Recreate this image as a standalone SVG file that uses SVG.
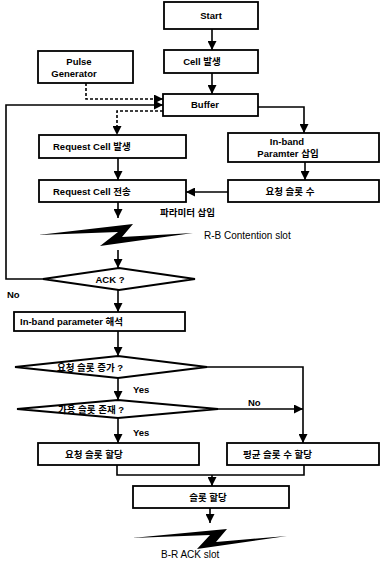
<svg xmlns="http://www.w3.org/2000/svg" width="381" height="565" viewBox="0 0 381 565">
<style>
.box{fill:#fff;stroke:#000;stroke-width:1.8}
.ln{fill:none;stroke:#000;stroke-width:1.6}
.dash{fill:none;stroke:#000;stroke-width:1.6;stroke-dasharray:3,2}
text{font-family:"Liberation Sans","Noto Sans CJK KR",sans-serif;font-size:9.5px;font-weight:bold;fill:#000}
.c{text-anchor:middle}
.lbl{font-weight:normal;font-size:10px}
.bolt{fill:#000}
</style>
<defs>
<marker id="ah" markerUnits="userSpaceOnUse" markerWidth="9" markerHeight="9" viewBox="0 0 10 10" refX="10" refY="5" orient="auto">
<path d="M0,0 L10,5 L0,10 Z" fill="#000"/>
</marker>
</defs>
<rect width="381" height="565" fill="#fff"/>
<g id="connectors">
<path class="ln" d="M212,29 V50" marker-end="url(#ah)"/>
<path class="ln" d="M212,73 V94" marker-end="url(#ah)"/>
<path class="dash" d="M86,83 V99 H163" marker-end="url(#ah)"/>
<path class="ln" d="M43,279 H6 V105 H163" marker-end="url(#ah)"/>
<path class="dash" d="M163,111 H117 V135" marker-end="url(#ah)"/>
<path class="ln" d="M258,107 H304 V133" marker-end="url(#ah)"/>
<path class="ln" d="M118,158 V180" marker-end="url(#ah)"/>
<path class="ln" d="M305,162 V180" marker-end="url(#ah)"/>
<path class="ln" d="M228,192 H186" marker-end="url(#ah)"/>
<path class="ln" d="M118,202 V218" marker-end="url(#ah)"/>
<path class="ln" d="M118,250 V268" marker-end="url(#ah)"/>
<path class="ln" d="M118,290 V312" marker-end="url(#ah)"/>
<path class="ln" d="M118,331 V356" marker-end="url(#ah)"/>
<path class="ln" d="M118,378 V400" marker-end="url(#ah)"/>
<path class="ln" d="M207,367 H303 V443" marker-end="url(#ah)"/>
<path class="ln" d="M218,409 H303" marker-end="url(#ah)"/>
<path class="ln" d="M118,418 V443" marker-end="url(#ah)"/>
<path class="ln" d="M117,465 V475 H304 V465"/>
<path class="ln" d="M212,475 V486" marker-end="url(#ah)"/>
<path class="ln" d="M210,508 V523" marker-end="url(#ah)"/>
</g>
<g id="start"><rect class="box" x="164" y="2" width="94" height="27"/><text class="c" x="211" y="19">Start</text></g>
<g id="cell"><rect class="box" x="164" y="50" width="94" height="23"/><text class="c" x="202" y="65">Cell 발생</text></g>
<g id="pulse"><rect class="box" x="38" y="51" width="95" height="32"/><text class="c" x="79" y="65">Pulse</text><text class="c" x="74" y="77">Generator</text></g>
<g id="buffer"><rect class="box" x="163" y="94" width="95" height="22"/><text class="c" x="205" y="108">Buffer</text></g>
<g id="req-gen"><rect class="box" x="39" y="135" width="147" height="23"/><text x="53" y="150">Request Cell 발생</text></g>
<g id="inband"><rect class="box" x="228" y="133" width="151" height="29"/><text class="c" x="287" y="145">In-band</text><text class="c" x="288" y="157">Paramter 삽입</text></g>
<g id="req-send"><rect class="box" x="39" y="180" width="147" height="22"/><text x="53" y="195">Request Cell 전송</text></g>
<g id="req-slots"><rect class="box" x="228" y="180" width="151" height="22"/><text class="c" x="290" y="195">요청 슬롯 수</text></g>
<g id="param-label"><text x="160" y="216">파라미터 삽입</text></g>
<g id="rb-slot"><polygon class="bolt" points="38,235 133,224 122,237 193,233 100,246 118,232"/><text class="lbl" x="204" y="239">R-B Contention slot</text></g>
<g id="ack"><polygon class="box" points="43,279 119,268 195,279 119,290"/><text class="c" x="110" y="283">ACK ?</text></g>
<g id="no1"><text x="7" y="298">No</text></g>
<g id="inband-parse"><rect class="box" x="14" y="312" width="171" height="19"/><text x="20" y="325">In-band parameter 해석</text></g>
<g id="inc"><polygon class="box" points="15,367 118,356 207,367 118,378"/><text x="57" y="371">요청 슬롯 증가 ?</text></g>
<g id="yes1"><text x="133" y="393">Yes</text></g>
<g id="avail"><polygon class="box" points="17,409 118,400 218,409 118,418"/><text x="58" y="413">가용 슬롯 존재 ?</text></g>
<g id="no2"><text x="248" y="406">No</text></g>
<g id="yes2"><text x="133" y="436">Yes</text></g>
<g id="alloc-req"><rect class="box" x="38" y="443" width="161" height="22"/><text x="65" y="458">요청 슬롯 할당</text></g>
<g id="alloc-avg"><rect class="box" x="227" y="443" width="152" height="22"/><text x="243" y="458">평균 슬롯 수 할당</text></g>
<g id="alloc"><rect class="box" x="133" y="486" width="156" height="22"/><text class="c" x="208" y="501">슬롯 할당</text></g>
<g id="br-slot"><polygon class="bolt" points="132,538 227,529 216,542 287,536 197,549 210,535"/><text class="lbl" x="161" y="558">B-R ACK slot</text></g>
</svg>
